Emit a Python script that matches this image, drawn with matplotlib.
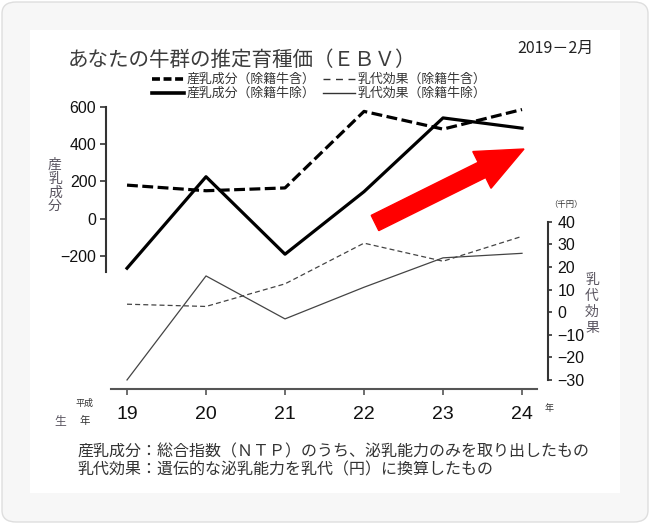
import matplotlib
matplotlib.use("Agg")
import matplotlib.pyplot as plt
from matplotlib.lines import Line2D
from matplotlib.patches import FancyBboxPatch, Rectangle, FancyArrow
from matplotlib.transforms import IdentityTransform

plt.rcParams['font.family'] = ['Noto Sans CJK JP', 'DejaVu Sans']

years = [19, 20, 21, 22, 23, 24]
comp_incl = [180, 150, 165, 575, 480, 585]     # 産乳成分（除籍牛含）
comp_excl = [-265, 225, -190, 145, 540, 485]   # 産乳成分（除籍牛除）
milk_incl = [3.5, 2.5, 12.5, 30.5, 22.5, 33.5]  # 乳代効果（除籍牛含）
milk_excl = [-30, 16, -3, 11, 24, 26]           # 乳代効果（除籍牛除）

left_ticks = [-200, 0, 200, 400, 600]
right_ticks = [-30, -20, -10, 0, 10, 20, 30, 40]

W, H = 650, 525


def fx(x):
    return x / W


def fy(y):
    return 1 - y / H


fig = plt.figure(figsize=(6.5, 5.25), dpi=100, facecolor='white')

# card background
fig.patches.append(FancyBboxPatch((fx(2), fy(522)), fx(646), 520 / H,
                                  boxstyle="round,pad=0,rounding_size=0.022",
                                  transform=fig.transFigure, facecolor='#f7f7f7',
                                  edgecolor='#dedede', linewidth=1, zorder=-10))
fig.patches.append(Rectangle((fx(30), fy(493)), fx(590), 463 / H,
                             transform=fig.transFigure, facecolor='white',
                             edgecolor='none', zorder=-9))

ax = fig.add_axes([fx(106), fy(389), fx(442), 289 / H])
ax.patch.set_visible(False)
ax2 = ax.twinx()
ax2.patch.set_visible(False)

ax.plot(years, comp_incl, color='black', lw=2.3, dashes=(3.4, 1.4))
ax.plot(years, comp_excl, color='black', lw=2.3)
ax2.plot(years, milk_incl, color='#444444', lw=0.9, dashes=(4, 2.5))
ax2.plot(years, milk_excl, color='#444444', lw=0.9)

ax.set_xlim(18.734, 24.329)
ax.set_ylim(-912, 636)
ax2.set_ylim(-34.0, 93.8)

for s in ['top', 'right']:
    ax.spines[s].set_visible(False)
for s in ['top', 'left', 'bottom']:
    ax2.spines[s].set_visible(False)
ax.spines['left'].set_bounds(-283, 600)
ax.spines['left'].set_color('#333333')
ax.spines['left'].set_linewidth(1.5)
ax.spines['bottom'].set_bounds(18.80, 24.186)
ax.spines['bottom'].set_color('#555555')
ax.spines['bottom'].set_linewidth(1.5)
ax2.spines['right'].set_bounds(-30, 40)
ax2.spines['right'].set_color('#333333')
ax2.spines['right'].set_linewidth(1.5)

ax.set_yticks(left_ticks)
ax.set_yticklabels([str(v).replace('-', '\u2212') for v in left_ticks],
                   fontfamily='Liberation Sans', fontsize=11.5)
ax.tick_params(axis='y', length=4, width=1.2, color='#333333', pad=3,
               labelcolor='#111111')
ax.set_xticks(years)
ax.set_xticklabels([str(y) for y in years], fontfamily='Liberation Sans',
                   fontsize=14)
ax.tick_params(axis='x', length=4, width=1.2, color='#555555', pad=8,
               labelcolor='#111111')
ax2.set_yticks(right_ticks)
ax2.set_yticklabels([str(v).replace('-', '\u2212') for v in right_ticks],
                    fontfamily='Liberation Sans', fontsize=11.5)
ax2.tick_params(axis='y', length=3, width=1.2, color='#333333', pad=4,
                labelcolor='#111111')

# red trend arrow (display pixels)
fig.patches.append(FancyArrow(375, H - 223, 149, 74, width=17, head_width=41,
                              head_length=47, length_includes_head=True,
                              color='#ff0000', transform=IdentityTransform(),
                              zorder=5))

# title and date
fig.text(fx(68), fy(60), 'あなたの牛群の推定育種価（ＥＢＶ）', fontsize=14.8,
         color='#3c3c3c', va='center', ha='left')
fig.text(fx(517), fy(48), '2019－2月', fontsize=11.5, color='#222222',
         va='center', ha='left')

# legend
leg_rows = [fy(79), fy(93)]
fig.add_artist(Line2D([fx(152), fx(184)], [leg_rows[0]] * 2, transform=fig.transFigure,
                      color='black', lw=2.6, dashes=(2.2, 1.0)))
fig.add_artist(Line2D([fx(152), fx(184)], [leg_rows[1]] * 2, transform=fig.transFigure,
                      color='black', lw=2.6))
fig.add_artist(Line2D([fx(323), fx(355)], [leg_rows[0]] * 2, transform=fig.transFigure,
                      color='#333333', lw=1.0, dashes=(5, 4)))
fig.add_artist(Line2D([fx(323), fx(355)], [leg_rows[1]] * 2, transform=fig.transFigure,
                      color='#333333', lw=1.0))
leg_kw = dict(fontsize=9.3, color='#333333', va='center', ha='left')
fig.text(fx(187), leg_rows[0], '産乳成分（除籍牛含）', **leg_kw)
fig.text(fx(187), leg_rows[1], '産乳成分（除籍牛除）', **leg_kw)
fig.text(fx(358), leg_rows[0], '乳代効果（除籍牛含）', **leg_kw)
fig.text(fx(358), leg_rows[1], '乳代効果（除籍牛除）', **leg_kw)

# vertical axis titles
for i, ch in enumerate('産乳成分'):
    fig.text(fx(55), fy(165 + i * 13.7), ch, fontsize=10, color='#5a5560',
             ha='center', va='center')
for i, ch in enumerate('乳代効果'):
    fig.text(fx(592), fy(280 + i * 16), ch, fontsize=10, color='#5a5560',
             ha='center', va='center')
fig.text(fx(566), fy(205), '（千円）', fontsize=6, color='#333333',
         ha='center', va='center')

# year annotations
fig.text(fx(84.5), fy(403), '平成', fontsize=6.5, color='#333333', ha='center', va='center')
fig.text(fx(84.5), fy(421), '年', fontsize=7.5, color='#333333', ha='center', va='center')
fig.text(fx(60), fy(421), '生', fontsize=8.5, color='#5a5560', ha='center', va='center')
fig.text(fx(549), fy(409), '年', fontsize=6.5, color='#333333', ha='center', va='center')

# footnotes
fig.text(fx(77), fy(452), '産乳成分：総合指数（ＮＴＰ）のうち、泌乳能力のみを取り出したもの',
         fontsize=11.5, color='#333333', ha='left', va='center')
fig.text(fx(77), fy(470), '乳代効果：遺伝的な泌乳能力を乳代（円）に換算したもの',
         fontsize=11.5, color='#333333', ha='left', va='center')

fig.savefig('out.png', dpi=100, facecolor='white')
